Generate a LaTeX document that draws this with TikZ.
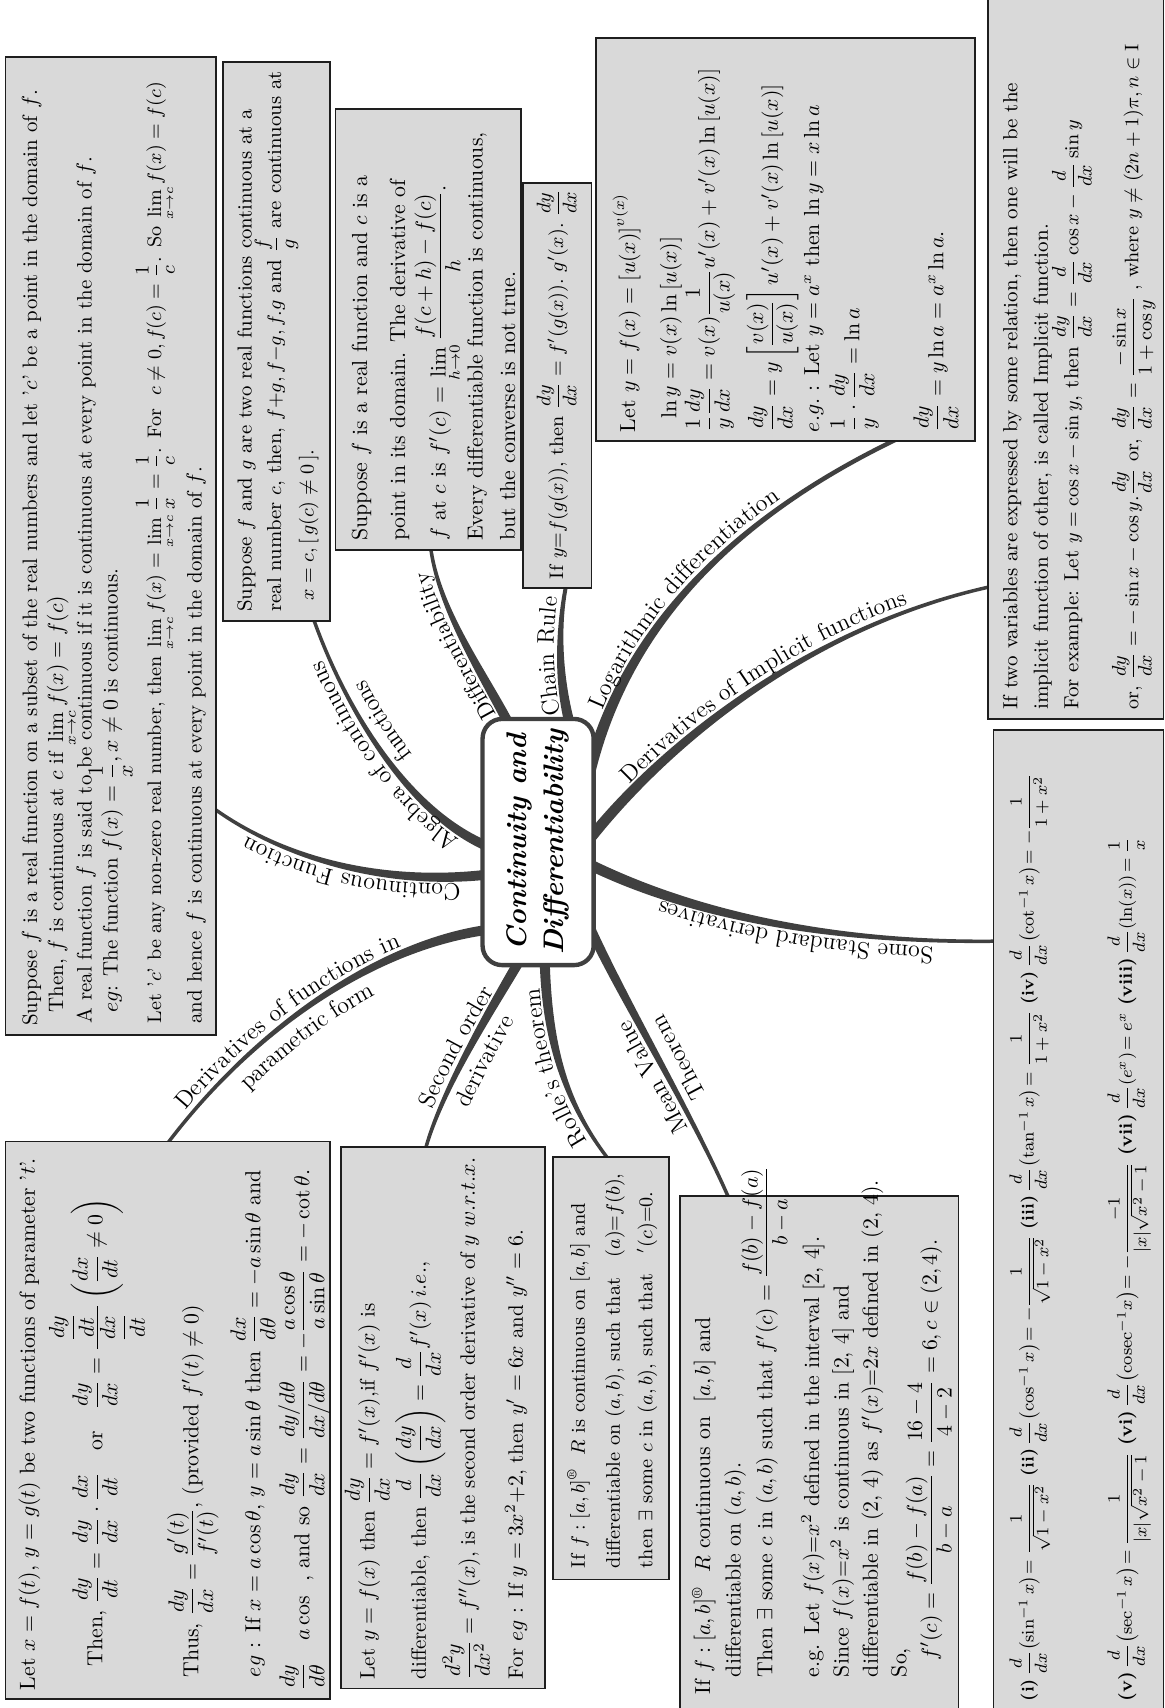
\documentclass[tikz,border=0pt]{standalone}
\usepackage{amsmath,amssymb}
\usetikzlibrary{calc,decorations.text}
\definecolor{boxfill}{RGB}{217,217,217}
\definecolor{branchcol}{RGB}{64,64,64}
\definecolor{framecol}{RGB}{30,30,30}
\newcommand\bodyfont{\fontsize{10}{12}\selectfont}
\newcommand\lblfont{\fontsize{11}{13}\selectfont}
\newcommand\lblsmall{\fontsize{10.4}{12}\selectfont}
\tikzset{
  panel/.style={draw=framecol, line width=0.8pt, fill=boxfill, inner sep=0pt, outer sep=0pt},
  txt/.style={rotate=90, anchor=base west, inner sep=0pt, font=\bodyfont},
  sz/.style={font=\fontsize{#1}{#1}\selectfont},
  centre/.style={rotate=90, draw=branchcol, line width=2pt, rounded corners=9pt, fill=white, align=center,
     font=\fontsize{13}{17}\selectfont\bfseries\itshape, inner sep=2pt},
  lblpath/.style={decorate}
}
\newcommand\panelbox[5]{\node[panel, anchor=north west, minimum width={(#4-#2)*0.5pt}, minimum height={(#5-#3)*0.5pt}] (#1) at (#2,#3) {};}
\newcommand\tline[5][]{\node[txt,#1] (#2) at (#3,#4) {#5};}
\newcommand\branch[6]{%
 \fill[branchcol] ($(#1)!#5!90:(#2)$) .. controls ($(#2)!#5!-90:(#1)$) and ($(#3)!#6!90:(#4)$) .. ($(#4)!#6!-90:(#3)$)
   -- ($(#4)!#6!90:(#3)$) .. controls ($(#3)!#6!-90:(#4)$) and ($(#2)!#5!90:(#1)$) .. ($(#1)!#5!-90:(#2)$) -- cycle;}
\begin{document}
\begin{tikzpicture}[x=0.5pt,y=-0.5pt]
\path[use as bounding box] (0,0) rectangle (1069,1568);

% ---------- branch coordinates ----------
\coordinate (cont0) at (462,801); \coordinate (cont1) at (370,815); \coordinate (cont2) at (270,795); \coordinate (cont3) at (196,742);
\coordinate (alg0) at (462,782); \coordinate (alg1) at (385,760); \coordinate (alg2) at (320,660); \coordinate (alg3) at (287,566);
\coordinate (dif0) at (472,674); \coordinate (dif1) at (445,620); \coordinate (dif2) at (402,560); \coordinate (dif3) at (395,500);
\coordinate (chn0) at (524,668); \coordinate (chn1) at (512,625); \coordinate (chn2) at (512,575); \coordinate (chn3) at (520,536);
\coordinate (log0) at (530,775); \coordinate (log1) at (545,600); \coordinate (log2) at (660,480); \coordinate (log3) at (830,400);
\coordinate (imp0) at (530,785); \coordinate (imp1) at (600,690); \coordinate (imp2) at (740,575); \coordinate (imp3) at (912,538);
\coordinate (std0) at (530,788); \coordinate (std1) at (640,845); \coordinate (std2) at (780,866); \coordinate (std3) at (917,864);
\coordinate (par0) at (462,852); \coordinate (par1) at (360,860); \coordinate (par2) at (240,935); \coordinate (par3) at (152,1052);
\coordinate (sec0) at (478,880); \coordinate (sec1) at (455,920); \coordinate (sec2) at (405,1000); \coordinate (sec3) at (390,1057);
\coordinate (rol0) at (500,880); \coordinate (rol1) at (502,960); \coordinate (rol2) at (520,1015); \coordinate (rol3) at (560,1066);
\coordinate (mvt0) at (530,825); \coordinate (mvt1) at (560,900); \coordinate (mvt2) at (630,1010); \coordinate (mvt3) at (670,1102);

% ---------- branches ----------
\branch{cont0}{cont1}{cont2}{cont3}{2.3pt}{0.8pt}
\branch{alg0}{alg1}{alg2}{alg3}{2.3pt}{0.8pt}
\branch{dif0}{dif1}{dif2}{dif3}{2.3pt}{0.8pt}
\branch{chn0}{chn1}{chn2}{chn3}{2.3pt}{0.9pt}
\branch{log0}{log1}{log2}{log3}{2.9pt}{1.0pt}
\branch{imp0}{imp1}{imp2}{imp3}{2.5pt}{0.8pt}
\branch{std0}{std1}{std2}{std3}{2.5pt}{0.8pt}
\branch{par0}{par1}{par2}{par3}{2.3pt}{0.8pt}
\branch{sec0}{sec1}{sec2}{sec3}{2.3pt}{0.8pt}
\branch{rol0}{rol1}{rol2}{rol3}{2.3pt}{0.8pt}
\branch{mvt0}{mvt1}{mvt2}{mvt3}{2.3pt}{0.8pt}

% ---------- branch labels ----------
\path[lblpath, decoration={text along path, text={|\lblfont|Continuous Function}, text align=center, raise=3pt}] (cont0) .. controls (cont1) and (cont2) .. (cont3);
\path[lblpath, decoration={text along path, text={|\lblfont|Algebra of continuous}, text align=center, raise=3pt}] (alg0) .. controls (alg1) and (alg2) .. (alg3);
\path[lblpath, decoration={text along path, text={|\lblfont|functions}, text align={left indent=64pt}, raise=-11pt}] (alg0) .. controls (alg1) and (alg2) .. (alg3);
\path[lblpath, decoration={text along path, text={|\lblsmall|Differentiability}, text align=center, raise=3pt}] (dif0) .. controls (dif1) and (dif2) .. (dif3);
\path[lblpath, decoration={text along path, text={|\lblfont|Chain Rule}, text align=center, raise=3pt}] (chn0) .. controls (chn1) and (chn2) .. (chn3);
\path[lblpath, decoration={text along path, text={|\lblfont|Logarithmic differentiation}, text align={left indent=62pt}, raise=3pt}] (log0) .. controls (log1) and (log2) .. (log3);
\path[lblpath, decoration={text along path, text={|\lblfont|Derivatives of Implicit functions}, text align={left indent=40pt}, raise=3pt}] (imp0) .. controls (imp1) and (imp2) .. (imp3);
\path[lblpath, decoration={text along path, text={|\lblfont|Some Standard derivatives}, text align={left indent=30pt}, raise=3pt}] (std3) .. controls (std2) and (std1) .. (std0);
\path[lblpath, decoration={text along path, text={|\lblfont|Derivatives of functions in}, text align={left indent=18pt}, raise=3pt}] (par3) .. controls (par2) and (par1) .. (par0);
\path[lblpath, decoration={text along path, text={|\lblfont|parametric form}, text align={left indent=45pt}, raise=-12pt}] (par3) .. controls (par2) and (par1) .. (par0);
\path[lblpath, decoration={text along path, text={|\lblfont|Second order}, text align=center, raise=3pt}] (sec3) .. controls (sec2) and (sec1) .. (sec0);
\path[lblpath, decoration={text along path, text={|\lblfont|derivative}, text align=center, raise=-12pt}] (sec3) .. controls (sec2) and (sec1) .. (sec0);
\path[lblpath, decoration={text along path, text={|\lblfont|Rolle's theorem}, text align=center, raise=3pt}] (rol3) .. controls (rol2) and (rol1) .. (rol0);
\path[lblpath, decoration={text along path, text={|\lblfont|Mean Value}, text align={left indent=38pt}, raise=3pt}] (mvt3) .. controls (mvt2) and (mvt1) .. (mvt0);
\path[lblpath, decoration={text along path, text={|\lblfont|Theorem}, text align={left indent=48pt}, raise=-12pt}] (mvt3) .. controls (mvt2) and (mvt1) .. (mvt0);

% ---------- panels ----------
\panelbox{A}{5}{52}{198}{950}
\panelbox{B}{205}{57}{303}{570}
\panelbox{C}{308}{100}{478}{505}
\panelbox{D}{480}{168}{543}{540}
\panelbox{E}{547}{35}{895}{405}
\panelbox{F}{907}{-4}{1068}{660}
\panelbox{G}{912}{670}{1068}{1574}
\panelbox{H}{5}{1048}{303}{1560}
\panelbox{I}{313}{1053}{500}{1550}
\panelbox{J}{508}{1062}{614}{1450}
\panelbox{K}{624}{1098}{880}{1574}

% ---------- panel A ----------
\tline[sz=9.6]{a1}{34}{942}{Suppose $f$ is a real function on a subset of the real numbers and let '$c$' be a point in the domain of $f$.}
\tline[sz=9.6]{a2}{58}{930}{Then, $f$ is continuous at $c$ if $\lim\limits_{x\to c} f(x)=f(c)$}
\tline[sz=9.6]{a3}{84}{940}{A real function $f$ is said to be continuous if it is continuous at every point in the domain of $f$.}
\tline[sz=9.6]{a4}{108}{930}{$eg$: The function $f(x)=\dfrac{1}{x}, x\neq 0$ is continuous.}
\tline[sz=9.0]{a5}{148}{940}{Let '$c$' be any non-zero real number, then $\lim\limits_{x\to c}f(x)=\lim\limits_{x\to c}\dfrac{1}{x}=\dfrac{1}{c}$. For\ \ $c\neq 0, f(c)=\dfrac{1}{c}$. So $\lim\limits_{x\to c}f(x)=f(c)$}
\tline[sz=9.6]{a6}{185}{940}{and hence $f$ is continuous at every point in the domain of $f$.}

% ---------- panel B ----------
\tline[sz=9.3]{b1}{231}{562}{Suppose $f$ and $g$ are two real functions continuous at a}
\tline[sz=9.3]{b2}{258}{562}{real number $c$, then, $f{+}g, f{-}g, f.g$ and $\dfrac{f}{g}$ are continuous at}
\tline[sz=9.3]{b3}{288}{552}{$x=c,\left[\,g(c)\neq 0\,\right]$.}

% ---------- panel C ----------
\tline{c1}{337}{497}{Suppose $f$ is a real function and $c$ is a}
\tline{c2}{372}{497}{point in its domain. The derivative of}
\tline{c3}{409}{497}{$f$ at $c$ is $f'(c)=\lim\limits_{h\to 0}\dfrac{f(c+h)-f(c)}{h}$.}
\tline{c4}{443}{497}{Every differentiable function is continuous,}
\tline{c5}{473}{497}{but the converse is not true.}

% ---------- panel D ----------
\tline[sz=9]{d1}{517}{532}{If $y{=}f(g(x))$, then $\dfrac{dy}{dx}=f'(g(x)).\ g'(x).\ \dfrac{dy}{dx}$}

% ---------- panel E ----------
\tline{e1}{583}{397}{Let $y=f(x)=\left[u(x)\right]^{v(x)}$}
\tline{e2}{621}{385}{$\ln y=v(x)\ln\left[u(x)\right]$}
\tline{e3}{656}{397}{$\dfrac{1}{y}\dfrac{dy}{dx}=v(x)\dfrac{1}{u(x)}u'(x)+v'(x)\ln\left[u(x)\right]$}
\tline{e4}{714}{397}{$\dfrac{dy}{dx}=y\left[\dfrac{v(x)}{u(x)}\right]u'(x)+v'(x)\ln\left[u(x)\right]$}
\tline{e5}{752}{397}{$e.g.$ : Let $y=a^x$ then $\ln y=x\ln a$}
\tline{e6}{789}{397}{$\dfrac{1}{y}\cdot\dfrac{dy}{dx}=\ln a$}
\tline{e7}{866}{397}{$\dfrac{dy}{dx}=y\ln a=a^x\ln a.$}

% ---------- panel F ----------
\tline[sz=9.4]{f1}{934}{652}{If two variables are expressed by some relation, then one will be the}
\tline[sz=9.4]{f2}{962}{652}{implicit function of other, is called Implicit function.}
\tline[sz=9.4]{f3}{990}{652}{For example: Let $y=\cos x-\sin y$, then $\dfrac{dy}{dx}=\dfrac{d}{dx}\cos x-\dfrac{d}{dx}\sin y$}
\tline[sz=9.0]{f4}{1045}{652}{or,\ $\dfrac{dy}{dx}=-\sin x-\cos y.\dfrac{dy}{dx}$ or,\ $\dfrac{dy}{dx}=\dfrac{-\sin x}{1+\cos y}$\ , where $y\neq(2n+1)\pi, n\in \mathrm{I}$}

% ---------- panel G ----------
\tline[sz=7.9]{g1}{949}{1562}{\textbf{(i)}\,$\dfrac{d}{dx}\!\left(\sin^{-1}x\right)\!=\dfrac{1}{\sqrt{1-x^2}}$\ \textbf{(ii)}\,$\dfrac{d}{dx}\!\left(\cos^{-1}x\right)\!=-\dfrac{1}{\sqrt{1-x^2}}$\ \textbf{(iii)}\,$\dfrac{d}{dx}\!\left(\tan^{-1}x\right)\!=\dfrac{1}{1+x^2}$\ \textbf{(iv)}\,$\dfrac{d}{dx}\!\left(\cot^{-1}x\right)\!=-\dfrac{1}{1+x^2}$}
\tline[sz=8.4]{g2}{1039}{1562}{\textbf{(v)}\,$\dfrac{d}{dx}\!\left(\sec^{-1}x\right)\!=\dfrac{1}{|x|\sqrt{x^2-1}}$\ \textbf{(vi)}\,$\dfrac{d}{dx}\!\left(\mathrm{cosec}^{-1}x\right)\!=-\dfrac{-1}{|x|\sqrt{x^2-1}}$\ \textbf{(vii)}\,$\dfrac{d}{dx}\!\left(e^x\right)\!=e^x$\ \textbf{(viii)}\,$\dfrac{d}{dx}\!\left(\ln(x)\right)\!=\dfrac{1}{x}$}

% ---------- panel H ----------
\tline{h1}{32}{1552}{Let $x=f(t)$, $y=g(t)$ be two functions of parameter '$t$'.}
\tline{h2}{94}{1530}{Then, $\dfrac{dy}{dt}=\dfrac{dy}{dx}\cdot\dfrac{dx}{dt}$\quad or\quad $\dfrac{dy}{dx}=\dfrac{\ \dfrac{dy}{dt}\ }{\dfrac{dx}{dt}}\left(\dfrac{dx}{dt}\neq 0\right)$}
\tline{h3}{182}{1540}{Thus, $\dfrac{dy}{dx}=\dfrac{g'(t)}{f'(t)}$, (provided $f'(t)\neq 0$)}
\tline{h4}{239}{1540}{$eg$ : If $x=a\cos\theta$, $y=a\sin\theta$ then $\dfrac{dx}{d\theta}=-a\sin\theta$ and}
\tline{h5}{284}{1552}{$\dfrac{dy}{d\theta}$\quad $a\cos$\ \ , and so $\dfrac{dy}{dx}=\dfrac{dy/d\theta}{dx/d\theta}=-\dfrac{a\cos\theta}{a\sin\theta}=-\cot\theta.$}

% ---------- panel I ----------
\tline[sz=9.6]{i1}{344}{1542}{Let $y=f(x)$ then $\dfrac{dy}{dx}=f'(x)$,if $f'(x)$ is}
\tline[sz=9.6]{i2}{391}{1542}{differentiable, then $\dfrac{d}{dx}\left(\dfrac{dy}{dx}\right)=\dfrac{d}{dx}f'(x)\,i.e.,$}
\tline[sz=9.6]{i3}{436}{1542}{$\dfrac{d^2y}{dx^2}=f''(x)$, is the second order derivative of $y$ $w.r.t.x.$}
\tline[sz=9.6]{i4}{480}{1542}{For $eg$ : If $y=3x^2{+}2$, then $y'=6x$ and $y''=6$.}

% ---------- panel J ----------
\tline[sz=9.1]{j1}{537}{1440}{If $f:\left[a,b\right]$\textsuperscript{\textregistered}\ \ $R$ is continuous on $[a,b]$ and}
\tline[sz=9.1]{j2}{569}{1440}{differentiable on $(a,b)$, such that \ \ $(a){=}f(b)$,}
\tline[sz=9.1]{j3}{599}{1440}{then $\exists$ some $c$ in $(a,b)$, such that \ \ $'(c){=}0$.}

% ---------- panel K ----------
\tline{k1}{652}{1556}{If $f:\left[a,b\right]$\textsuperscript{\textregistered}\ \ $R$ continuous on \ $[a,b]$ and}
\tline{k2}{680}{1540}{differentiable on $(a,b)$.}
\tline{k3}{709}{1540}{Then $\exists$ some $c$ in $(a,b)$ such that $f'(c)=\dfrac{f(b)-f(a)}{b-a}$}
\tline{k4}{752}{1540}{e.g. Let $f(x){=}x^2$ defined in the interval [2, 4].}
\tline{k5}{779}{1540}{Since $f(x){=}x^2$ is continuous in [2, 4] and}
\tline{k6}{806}{1540}{differentiable in (2, 4) as $f'(x){=}2x$ defined in (2, 4).}
\tline{k7}{832}{1540}{So,}
\tline{k8}{860}{1525}{$f'(c)=\dfrac{f(b)-f(a)}{b-a}=\dfrac{16-4}{4-2}=6, c\in(2,4)$.}

% ---------- centre ----------
\node[centre, minimum width=113pt, minimum height=51pt] (CD) at (494,773) {Continuity and\\Differentiability};
\end{tikzpicture}
\end{document}
